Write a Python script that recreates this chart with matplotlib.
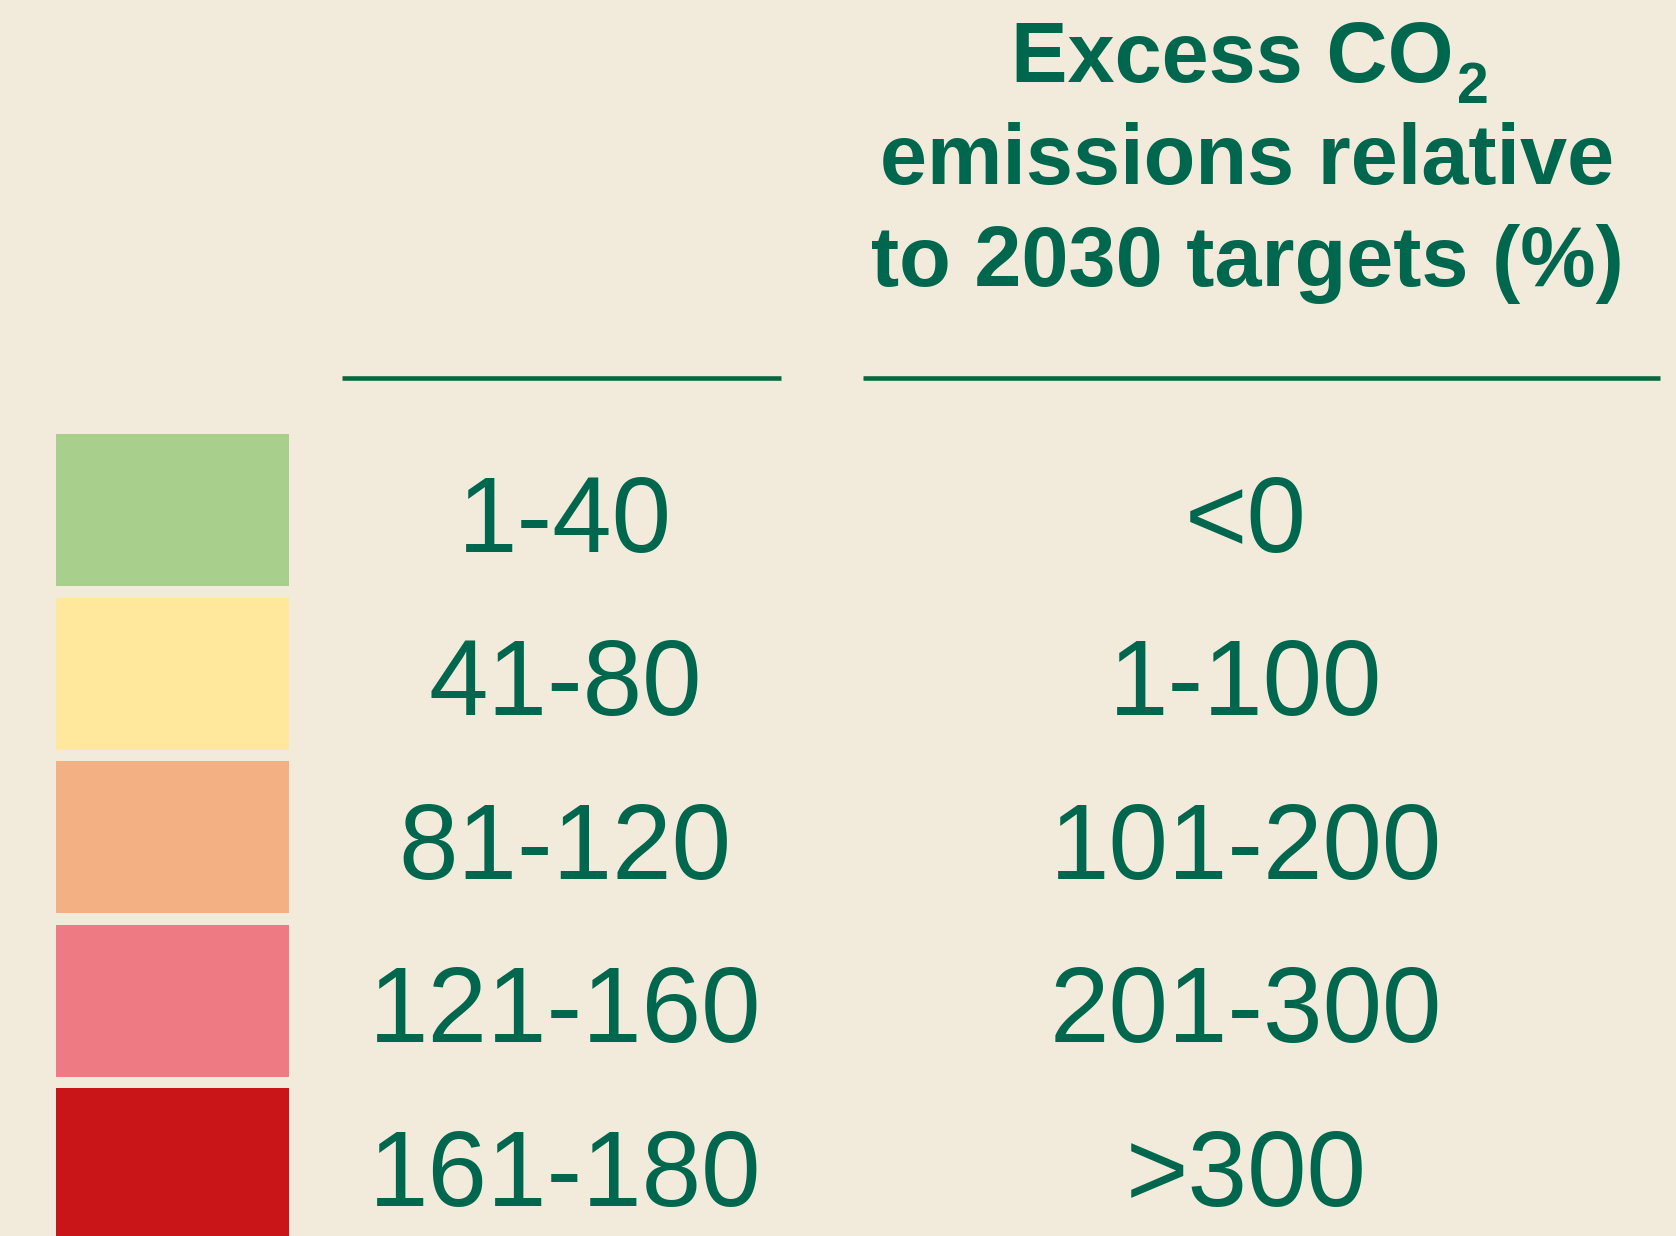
import matplotlib.pyplot as plt
import numpy as np

# legend content
left_labels = ['1-40', '41-80', '81-120', '121-160', '161-180']
right_labels = ['<0', '1-100', '101-200', '201-300', '>300']
box_colors = ['#A8D08C', '#FFE79B', '#F3B083', '#EE7B83', '#C91418']
title_main = 'Excess CO'
title_sub = '2'
title_rest = ['emissions relative', 'to 2030 targets (%)']

bg = '#F2EBDB'
txt_col = '#00674F'
line_col = '#07683E'

plt.rcParams['font.family'] = ['Liberation Sans', 'DejaVu Sans']

W, H = 1676, 1236
fig = plt.figure(figsize=(W / 100, H / 100), dpi=100, facecolor=bg)
ax = fig.add_axes([0, 0, 1, 1])
ax.set_facecolor(bg)

# x in pixels, y in row units (row pitch 163.5 px, first row centre at 510 px)
pitch = 163.5
y0 = 510
ax.set_xlim(0, W)
ax.set_ylim((H - y0) / pitch, -y0 / pitch)
ax.axis('off')

rows = np.arange(len(left_labels))
ax.barh(rows, 233, left=55.6, height=152 / pitch, color=box_colors)

for i in rows:
    ax.text(565, i + 41.6 / pitch, left_labels[i], fontsize=77, color=txt_col,
            ha='center', va='baseline')
    ax.text(1246, i + 41.6 / pitch, right_labels[i], fontsize=77, color=txt_col,
            ha='center', va='baseline')

# header rules
ly = (378 - y0) / pitch
ax.plot([342, 781], [ly, ly], color=line_col, lw=3.3, solid_capstyle='butt')
ax.plot([863, 1660], [ly, ly], color=line_col, lw=3.3, solid_capstyle='butt')

# title, first line with a big low subscript
r = fig.canvas.get_renderer()
yb = (82 - y0) / pitch
t1 = ax.text(0, yb, title_main, fontsize=61, fontweight='bold', color=txt_col,
             ha='left', va='baseline')
t2 = ax.text(0, yb + 21.4 / pitch, title_sub, fontsize=41, fontweight='bold',
             color=txt_col, ha='left', va='baseline')
w1 = t1.get_window_extent(r).width
w2 = t2.get_window_extent(r).width
gap = 4
x_start = 1250 - (w1 + gap + w2) / 2
t1.set_x(x_start)
t2.set_x(x_start + w1 + gap)

for k, t in enumerate(title_rest):
    yb = (82 + 102 * (k + 1) - y0) / pitch
    ax.text(1247, yb, t, fontsize=61, fontweight='bold', color=txt_col,
            ha='center', va='baseline')

fig.savefig('out.png', dpi=100, facecolor=bg)
